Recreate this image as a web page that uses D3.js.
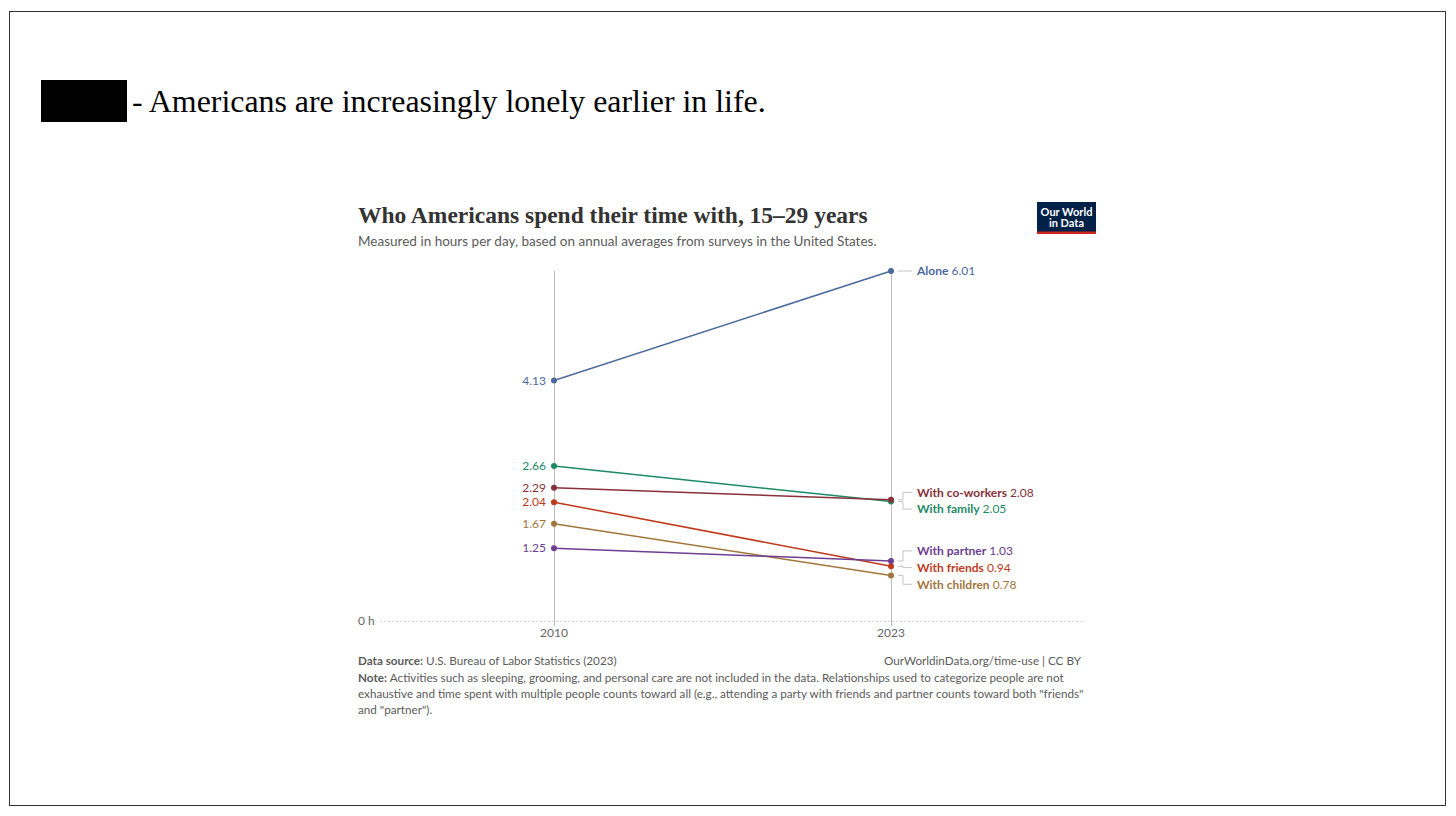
<!DOCTYPE html>
<html>
<head>
<meta charset="utf-8">
<script src="https://cdn.jsdelivr.net/npm/d3@7"></script>
<style>
  body { margin: 0; background: #fff; }
  svg { display: block; }
</style>
</head>
<body>
<div id="chartbox"></div>
<script>
const years = [2010, 2023]
const series = ['Alone', 'With family', 'With co-workers', 'With friends', 'With children', 'With partner']
const values2010 = [4.13, 2.66, 2.29, 2.04, 1.67, 1.25]
const values2023 = [6.01, 2.05, 2.08, 0.94, 0.78, 1.03]
const colors = ['#4c6a9c', '#1d8a66', '#883039', '#c0391b', '#a2763b', '#6d3e91']

const WIDTH = 1456
const HEIGHT = 816
const chart = { left: 380, right: 1085, top: 271, bottom: 621 }

const svg = d3.select('#chartbox')
  .append('svg')
  .attr('width', WIDTH)
  .attr('height', HEIGHT)

// fit a text element to a given width by adjusting its font size
const fitWidth = (sel, size, w) => {
  const len = sel.node().getComputedTextLength()
  sel.attr('font-size', size * w / len)
}

// slide frame
svg.append('rect')
  .attr('x', 9.5).attr('y', 11.5)
  .attr('width', 1436).attr('height', 794)
  .attr('fill', 'none')
  .attr('stroke', '#333')

svg.append('rect')
  .attr('x', 41).attr('y', 80)
  .attr('width', 86).attr('height', 42)
  .attr('fill', '#000')

const heading = svg.append('text')
  .attr('x', 132).attr('y', 112)
  .attr('font-family', 'Liberation Serif, serif')
  .attr('font-size', 30)
  .attr('fill', '#000')
  .text('- Americans are increasingly lonely earlier in life.')
fitWidth(heading, 30, 634)

// header
const title = svg.append('text')
  .attr('x', 358).attr('y', 223)
  .attr('font-family', 'Liberation Serif, serif')
  .attr('font-weight', 700)
  .attr('font-size', 22)
  .attr('fill', '#333')
  .text('Who Americans spend their time with, 15–29 years')
fitWidth(title, 22, 510)

const sub = svg.append('text')
  .attr('x', 358).attr('y', 246)
  .attr('font-family', 'Lato, sans-serif')
  .attr('font-size', 13.2)
  .attr('fill', '#5b5b5b')
  .text('Measured in hours per day, based on annual averages from surveys in the United States.')
fitWidth(sub, 13.2, 519)

// logo
const logo = svg.append('g').attr('transform', 'translate(1037,202)')
logo.append('rect').attr('width', 59).attr('height', 32).attr('fill', '#002147')
logo.append('rect').attr('y', 29.5).attr('width', 59).attr('height', 2.5).attr('fill', '#ce261e')
logo.append('text').attr('x', 29.5).attr('y', 14)
  .attr('text-anchor', 'middle').attr('fill', '#fff')
  .attr('font-family', 'Lato, sans-serif').attr('font-weight', 700).attr('font-size', 11)
  .text('Our World')
logo.append('text').attr('x', 29.5).attr('y', 25)
  .attr('text-anchor', 'middle').attr('fill', '#fff')
  .attr('font-family', 'Lato, sans-serif').attr('font-weight', 700).attr('font-size', 11)
  .text('in Data')

// scales
const x = d3.scalePoint().domain(years).range([554, 891])
const y = d3.scaleLinear().domain([0, d3.max(values2023)]).range([chart.bottom, chart.top])

const rows = series.map((name, i) => ({ name, v0: values2010[i], v1: values2023[i], color: colors[i] }))

// zero grid line
svg.append('line')
  .attr('x1', chart.left).attr('x2', chart.right)
  .attr('y1', y(0) + 0.5).attr('y2', y(0) + 0.5)
  .attr('stroke', '#d8d8d8')
  .attr('stroke-dasharray', '2,2')

svg.append('text')
  .attr('x', 358).attr('y', y(0) + 4)
  .attr('font-family', 'Lato, sans-serif').attr('font-size', 12)
  .attr('fill', '#666')
  .text('0 h')

// year axes
const xAxis = svg.append('g')
xAxis.selectAll('line')
  .data(years)
  .enter()
  .append('line')
  .attr('x1', d => x(d) + 0.5).attr('x2', d => x(d) + 0.5)
  .attr('y1', y.range()[1]).attr('y2', y(0) + 5)
  .attr('stroke', '#bbb')
xAxis.selectAll('text')
  .data(years)
  .enter()
  .append('text')
  .attr('x', d => x(d)).attr('y', y(0) + 16)
  .attr('text-anchor', 'middle')
  .attr('font-family', 'Lato, sans-serif').attr('font-size', 12)
  .attr('fill', '#666')
  .text(d => d)

// slopes
svg.append('g')
  .selectAll('line')
  .data(rows)
  .enter()
  .append('line')
  .attr('x1', x(years[0])).attr('x2', x(years[1]))
  .attr('y1', d => y(d.v0)).attr('y2', d => y(d.v1))
  .attr('stroke', d => d.color)
  .attr('stroke-width', 1.5)

const dots = svg.append('g')
rows.forEach(d => {
  dots.append('circle').attr('cx', x(years[0])).attr('cy', y(d.v0)).attr('r', 3).attr('fill', d.color)
  dots.append('circle').attr('cx', x(years[1])).attr('cy', y(d.v1)).attr('r', 3).attr('fill', d.color)
})

// left value labels
svg.append('g')
  .selectAll('text')
  .data(rows)
  .enter()
  .append('text')
  .attr('x', x(years[0]) - 8)
  .attr('y', d => y(d.v0))
  .attr('dy', '0.35em')
  .attr('text-anchor', 'end')
  .attr('font-family', 'Lato, sans-serif').attr('font-size', 12)
  .attr('fill', d => d.color)
  .text(d => d.v0.toFixed(2))

// right labels, dodged so they do not overlap
const GAP = 16.7
const sorted = rows.slice().sort((a, b) => y(a.v1) - y(b.v1))
let groups = sorted.map(d => ({ items: [d], mid: y(d.v1) }))
let merged = true
while (merged) {
  merged = false
  for (let i = 0; i < groups.length - 1; i++) {
    const a = groups[i], b = groups[i + 1]
    const aEnd = a.mid + (a.items.length - 1) * GAP / 2
    const bStart = b.mid - (b.items.length - 1) * GAP / 2
    if (bStart - aEnd < GAP) {
      const items = a.items.concat(b.items)
      const mid = d3.mean(items, d => y(d.v1))
      groups.splice(i, 2, { items, mid })
      merged = true
      break
    }
  }
}
groups.forEach(g => {
  g.items.forEach((d, i) => { d.ly = g.mid + (i - (g.items.length - 1) / 2) * GAP })
})

const lab = svg.append('g')
const bx0 = x(years[1]) + 7, bx1 = x(years[1]) + 12, bx2 = x(years[1]) + 21
rows.forEach(d => {
  const yy = y(d.v1)
  lab.append('path')
    .attr('d', `M${bx0},${yy}H${bx1}V${d.ly}H${bx2}`)
    .attr('fill', 'none')
    .attr('stroke', '#c4c4c4')
    .attr('stroke-width', 1)
  const t = lab.append('text')
    .attr('x', bx2 + 5).attr('y', d.ly)
    .attr('dy', '0.35em')
    .attr('font-family', 'Lato, sans-serif').attr('font-size', 12)
    .attr('fill', d.color)
  t.append('tspan').attr('font-weight', 700).text(d.name)
  t.append('tspan').text(' ' + d.v1.toFixed(2))
})

// footer
const foot = svg.append('g')
  .attr('font-family', 'Lato, sans-serif')
  .attr('font-size', 11.7)
  .attr('fill', '#5b5b5b')
const src = foot.append('text').attr('x', 358).attr('y', 665)
src.append('tspan').attr('font-weight', 700).text('Data source:')
src.append('tspan').text(' U.S. Bureau of Labor Statistics (2023)')
foot.append('text').attr('x', 1081).attr('y', 665)
  .attr('text-anchor', 'end')
  .text('OurWorldinData.org/time-use | CC BY')

const noteLines = [
  'Activities such as sleeping, grooming, and personal care are not included in the data. Relationships used to categorize people are not',
  'exhaustive and time spent with multiple people counts toward all (e.g., attending a party with friends and partner counts toward both "friends"',
  'and "partner").'
]
noteLines.forEach((line, i) => {
  const t = foot.append('text').attr('x', 358).attr('y', 682 + i * 16)
  if (i === 0) t.append('tspan').attr('font-weight', 700).text('Note: ')
  t.append('tspan').text(line)
})
</script>
</body>
</html>
